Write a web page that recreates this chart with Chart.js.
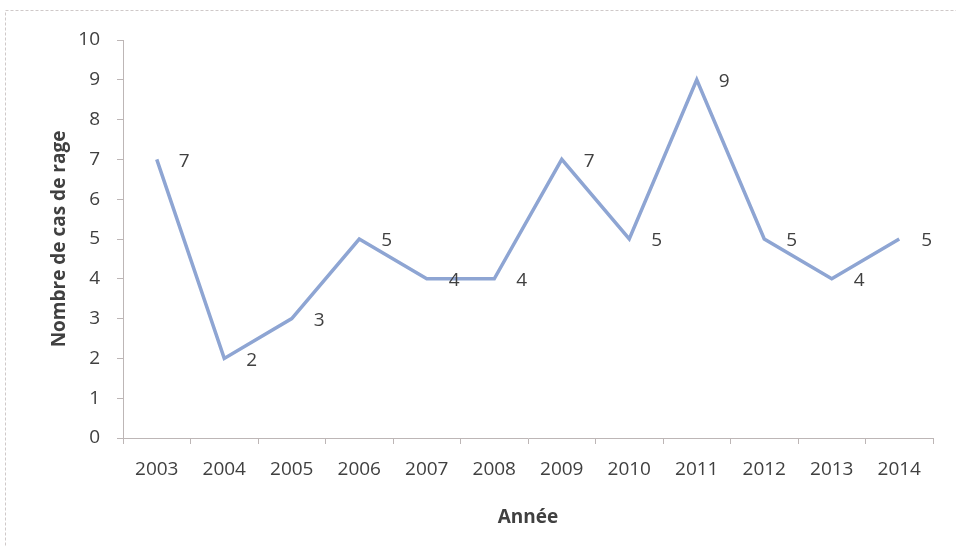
<!DOCTYPE html>
<html>
<head>
<meta charset="utf-8">
<script src="https://cdn.jsdelivr.net/npm/chart.js@4"></script>
<style>
  html, body { margin: 0; padding: 0; background: #fff; overflow: hidden; }
  #wrap { width: 956px; height: 547px; }
</style>
</head>
<body>
<div id="wrap"><canvas id="rageChart" width="956" height="547"></canvas></div>
<script>
const years = ['2003', '2004', '2005', '2006', '2007', '2008', '2009', '2010', '2011', '2012', '2013', '2014'];
const cases = [7, 2, 3, 5, 4, 4, 7, 5, 9, 5, 4, 5];
const yTicks = [0, 1, 2, 3, 4, 5, 6, 7, 8, 9, 10];

const textColor = '#404040';
const axisColor = '#bdb6b6';
const fontFamily = '"Open Sans", sans-serif';

// dashed frame around the whole chart, like the exported picture
const framePlugin = {
  id: 'frame',
  beforeDraw(chart) {
    const ctx = chart.ctx;
    ctx.save();
    ctx.fillStyle = '#fff';
    ctx.fillRect(0, 0, chart.width, chart.height);
    ctx.strokeStyle = '#cfc9c9';
    ctx.lineWidth = 1;
    ctx.setLineDash([3, 2]);
    ctx.strokeRect(5.5, 10.5, 1100, 700);
    ctx.restore();
  }
};

// value labels to the right of each point
const valueLabels = {
  id: 'valueLabels',
  afterDatasetsDraw(chart) {
    const ctx = chart.ctx;
    const meta = chart.getDatasetMeta(0);
    ctx.save();
    ctx.font = '19px ' + fontFamily;
    ctx.fillStyle = textColor;
    ctx.textAlign = 'left';
    ctx.textBaseline = 'middle';
    meta.data.forEach((pt, i) => {
      ctx.fillText(String(cases[i]), pt.x + 22, pt.y + 2);
    });
    ctx.restore();
  }
};

new Chart(document.getElementById('rageChart').getContext('2d'), {
  type: 'line',
  data: {
    labels: years,
    datasets: [
      {
        label: 'Nombre de cas de rage',
        data: cases,
        borderColor: '#8ea5d3',
        borderWidth: 3.5,
        borderJoinStyle: 'miter',
        tension: 0,
        pointRadius: 0,
        fill: false,
      },
    ],
  },
  options: {
    responsive: false,
    animation: false,
    devicePixelRatio: 1,
    layout: { padding: { left: 48, right: 23, top: 40, bottom: 18 } },
    plugins: {
      legend: { display: false },
      tooltip: { enabled: false },
    },
    scales: {
      x: {
        offset: true,
        grid: {
          offset: true,
          drawOnChartArea: false,
          color: axisColor,
          tickLength: 6,
        },
        border: { color: axisColor, width: 1 },
        ticks: { color: textColor, font: { family: fontFamily, size: 19 }, padding: 14, maxRotation: 0 },
        title: {
          display: true,
          text: 'Année',
          color: textColor,
          font: { family: fontFamily, size: 19, weight: 'bold' },
          padding: { top: 8, bottom: 0 },
        },
        afterFit(scale) { scale.height = 547 - 438 - 18; },
      },
      y: {
        min: 0,
        max: 10,
        afterBuildTicks(scale) { scale.ticks = yTicks.map(v => ({ value: v })); },
        grid: {
          drawOnChartArea: false,
          color: axisColor,
          tickLength: 6,
        },
        border: { color: axisColor, width: 1 },
        ticks: { color: textColor, font: { family: fontFamily, size: 19 }, padding: 17 },
        title: {
          display: true,
          text: 'Nombre de cas de rage',
          color: textColor,
          font: { family: fontFamily, size: 19, weight: 'bold' },
          padding: { top: 0, bottom: 0 },
        },
        afterFit(scale) { scale.width = 123 - 48; },
      },
    },
  },
  plugins: [framePlugin, valueLabels],
});
</script>
</body>
</html>
